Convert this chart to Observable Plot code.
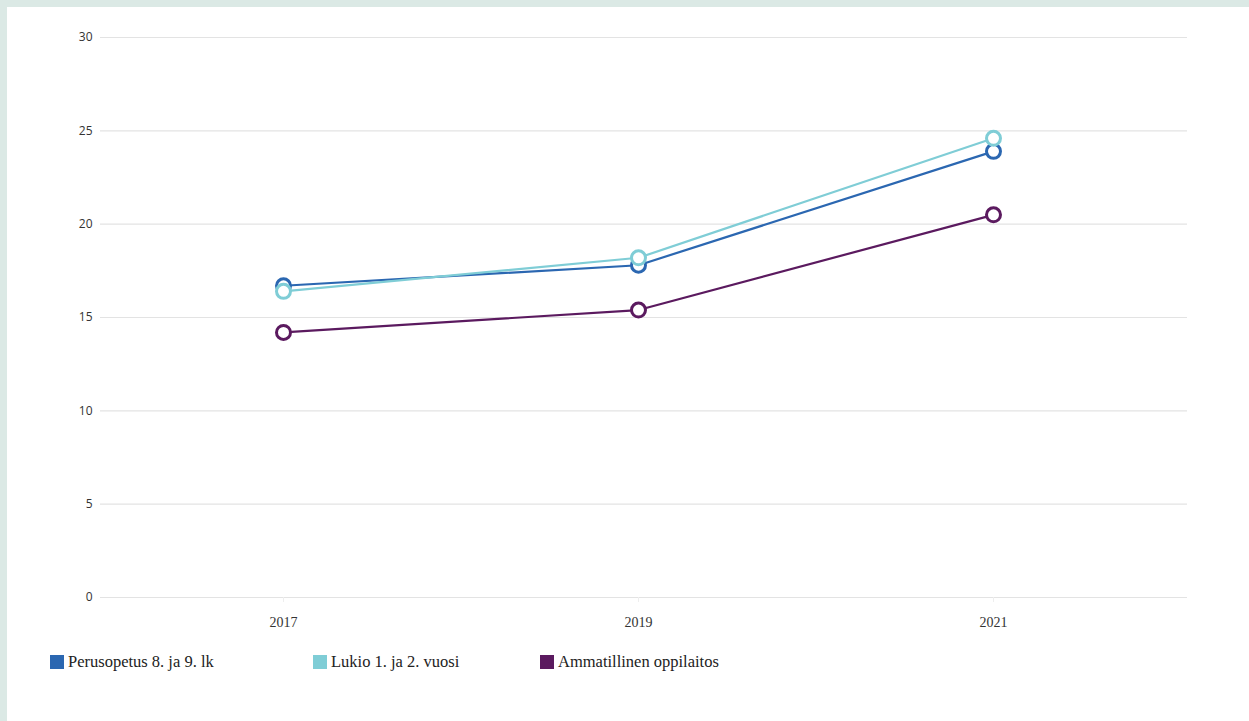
<!DOCTYPE html>
<html><head><meta charset="utf-8">
<script src="https://cdn.jsdelivr.net/npm/d3@7"></script>
<script src="https://cdn.jsdelivr.net/npm/@observablehq/plot@0.6"></script>
<style>
html,body{margin:0;padding:0;background:#dbe9e5;width:1249px;height:721px;overflow:hidden;}
#panel{position:absolute;left:7px;top:7px;width:1242px;height:714px;background:#fff;}
#legend{position:absolute;left:43px;top:645px;display:flex;font-family:"Times New Roman","Liberation Serif","DejaVu Serif",serif;font-size:16.5px;color:#222;}
.item{display:flex;align-items:center;}
.sw{width:14px;height:14px;margin-right:4px;}
</style></head>
<body><div id="panel"><div id="chart"></div><div id="legend"></div></div>
<script>
const years = ["2017","2019","2021"];
const seriesNames = ["Perusopetus 8. ja 9. lk","Lukio 1. ja 2. vuosi","Ammatillinen oppilaitos"];
const perusopetus = [16.7, 17.8, 23.9];
const lukio = [16.4, 18.2, 24.6];
const ammatillinen = [14.2, 15.4, 20.5];
const colors = ["#2b67b1","#7fcdd6","#5b1a5f"];
const yTicks = [0,5,10,15,20,25,30];

const vals = [perusopetus, lukio, ammatillinen];
const data = [];
seriesNames.forEach((s,i)=>years.forEach((y,j)=>data.push({series:s, year:y, value:vals[i][j]})));

const serif = "'Times New Roman', 'Liberation Serif', 'DejaVu Serif', serif";
const plot = Plot.plot({
  width:1242, height:630,
  marginLeft:93, marginRight:62, marginTop:30, marginBottom:40,
  x:{type:"point", domain:years, range:[276,986], padding:0},
  y:{domain:[0,30]},
  color:{domain:seriesNames, range:colors},
  style:{background:"transparent"},
  marks:[
    Plot.gridY(yTicks,{stroke:"#e3e3e3", strokeOpacity:1, strokeWidth:1.2}),
    Plot.axisY(yTicks,{tickSize:0, tickPadding:8, fontSize:12, fill:"#333", fontFamily:"Open Sans, sans-serif", label:null}),
    Plot.axisX({tickSize:5, stroke:"#eee", tickPadding:15, fontSize:14, fill:"#333", fontFamily:serif, label:null}),
    Plot.line(data,{x:"year", y:"value", stroke:"series", z:"series", strokeWidth:2.2}),
    Plot.dot(data,{x:"year", y:"value", stroke:"series", fill:"white", r:7, strokeWidth:3})
  ]
});
document.getElementById("chart").appendChild(plot);

const widths = [263,227,200];
const lg = document.getElementById("legend");
seriesNames.forEach((s,i)=>{
  const d = document.createElement("div"); d.className="item"; d.style.width=widths[i]+"px";
  d.innerHTML = `<span class="sw" style="background:${colors[i]}"></span><span>${s}</span>`;
  lg.appendChild(d);
});
</script></body></html>
